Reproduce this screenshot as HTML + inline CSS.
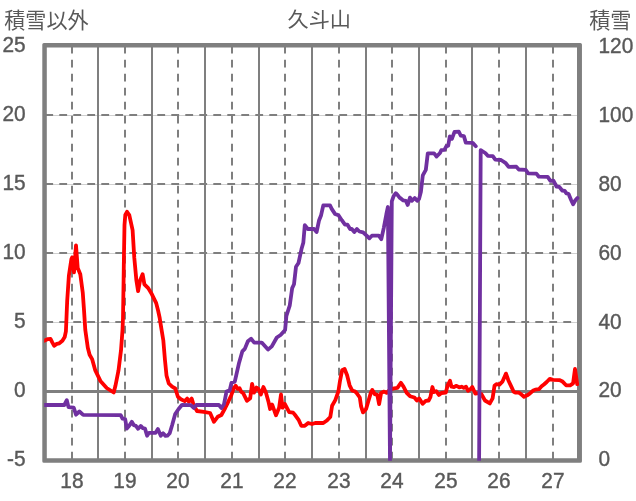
<!DOCTYPE html>
<html lang="ja"><head><meta charset="utf-8"><title>久斗山</title>
<style>
html,body{margin:0;padding:0;background:#fff;}
body{width:636px;height:501px;overflow:hidden;font-family:"Liberation Sans",sans-serif;}
svg{display:block;}
</style></head><body>
<svg width="636" height="501" viewBox="0 0 636 501">
<rect width="636" height="501" fill="#ffffff"/>
<g stroke="#d0d0d0" stroke-width="1" fill="none" transform="translate(0 0.5)">
<line x1="45.3" y1="115.0" x2="579.5" y2="115.0"/>
<line x1="45.3" y1="184.0" x2="579.5" y2="184.0"/>
<line x1="45.3" y1="253.0" x2="579.5" y2="253.0"/>
<line x1="45.3" y1="322.0" x2="579.5" y2="322.0"/>
</g>
<g stroke="#7f7f7f" stroke-width="2" fill="none" stroke-dasharray="7.8 6.2">
<line x1="45.3" y1="115.0" x2="579.5" y2="115.0"/>
<line x1="45.3" y1="184.0" x2="579.5" y2="184.0"/>
<line x1="45.3" y1="253.0" x2="579.5" y2="253.0"/>
<line x1="45.3" y1="322.0" x2="579.5" y2="322.0"/>
<line x1="72.0" y1="45.7" x2="72.0" y2="460.4"/>
<line x1="125.0" y1="45.7" x2="125.0" y2="460.4"/>
<line x1="178.0" y1="45.7" x2="178.0" y2="460.4"/>
<line x1="232.0" y1="45.7" x2="232.0" y2="460.4"/>
<line x1="285.0" y1="45.7" x2="285.0" y2="460.4"/>
<line x1="339.0" y1="45.7" x2="339.0" y2="460.4"/>
<line x1="392.0" y1="45.7" x2="392.0" y2="460.4"/>
<line x1="446.0" y1="45.7" x2="446.0" y2="460.4"/>
<line x1="499.0" y1="45.7" x2="499.0" y2="460.4"/>
<line x1="553.0" y1="45.7" x2="553.0" y2="460.4"/>
</g>
<g stroke="#7f7f7f" stroke-width="2" fill="none">
<line x1="98.0" y1="45.7" x2="98.0" y2="460.4"/>
<line x1="152.0" y1="45.7" x2="152.0" y2="460.4"/>
<line x1="205.0" y1="45.7" x2="205.0" y2="460.4"/>
<line x1="259.0" y1="45.7" x2="259.0" y2="460.4"/>
<line x1="312.0" y1="45.7" x2="312.0" y2="460.4"/>
<line x1="366.0" y1="45.7" x2="366.0" y2="460.4"/>
<line x1="419.0" y1="45.7" x2="419.0" y2="460.4"/>
<line x1="472.0" y1="45.7" x2="472.0" y2="460.4"/>
<line x1="526.0" y1="45.7" x2="526.0" y2="460.4"/>
</g>
<line x1="44.5" y1="391.5" x2="579.5" y2="391.5" stroke="#7f7f7f" stroke-width="3"/>
<path fill="#7f7f7f" fill-rule="evenodd" d="M43.90 42.90H580.35A1.6 1.6 0 0 1 581.95 44.50V461.20A1.6 1.6 0 0 1 580.35 462.80H43.90A1.6 1.6 0 0 1 42.30 461.20V44.50A1.6 1.6 0 0 1 43.90 42.90Z M46.80 47.60H577.00V458.30H46.80Z"/>
<clipPath id="pc"><rect x="44.2" y="40" width="540" height="420.8"/></clipPath>
<g fill="none" stroke-linejoin="round" stroke-linecap="round" stroke-width="3.8" clip-path="url(#pc)">
<polyline stroke="#ff0000" points="44.2,340.8 47.9,339.1 50.5,338.9 52.4,342.6 54.2,345.8 56.8,343.9 59.3,343.3 62.4,340.8 64.7,337.0 65.9,331.3 66.4,320.0 66.8,310.0 67.2,300.6 68.9,275.5 71.4,259.1 72.2,257.4 74.0,272.4 76.0,245.3 77.7,267.9 80.3,274.2 82.8,293.1 84.0,310.0 85.3,330.1 87.8,347.7 89.6,354.8 92.1,359.1 95.3,370.4 100.4,380.9 106.7,388.0 113.7,392.5 115.5,385.5 118.5,370.4 121.0,350.3 122.5,330.1 123.0,318.0 123.6,280.0 124.0,253.0 124.5,225.0 125.3,215.0 127.0,211.8 129.3,215.1 132.6,230.2 134.3,257.9 136.4,280.5 138.1,291.1 140.1,280.5 142.6,274.2 144.4,284.3 148.2,288.1 151.9,294.3 156.2,303.1 158.2,311.0 159.7,318.0 160.8,325.1 163.3,340.2 165.0,360.3 166.5,375.4 168.8,383.5 172.1,386.7 175.3,388.5 177.9,396.8 180.9,399.3 184.7,401.1 187.2,398.6 188.9,401.8 191.7,398.6 193.8,405.5 197.0,411.0 203.8,411.8 210.1,413.0 213.9,421.8 217.7,416.8 221.4,415.0 225.2,408.0 227.5,403.3 231.3,395.2 233.8,388.2 235.7,385.7 237.6,388.9 239.5,388.2 241.4,392.0 243.3,393.3 247.0,400.8 250.2,398.3 252.1,383.8 254.0,392.6 256.5,387.6 258.4,388.9 260.9,394.5 263.4,387.0 265.9,392.6 268.4,401.4 270.1,409.0 272.2,404.6 276.0,415.3 279.1,407.7 281.0,394.5 282.6,407.7 284.8,404.0 289.2,412.1 293.1,412.6 295.7,415.8 298.8,420.2 301.3,425.8 304.8,425.8 308.2,423.0 312.0,424.0 315.2,423.0 323.3,423.0 326.5,420.8 330.3,417.0 332.1,405.7 335.3,400.1 338.4,391.3 340.1,380.3 342.1,370.3 344.6,369.0 347.1,375.3 349.6,385.3 352.1,390.4 355.2,391.6 356.7,393.1 359.8,397.5 361.1,406.4 363.0,412.4 366.1,408.9 368.2,401.7 370.8,392.9 372.3,389.9 374.8,394.2 377.3,394.9 379.1,404.2 381.1,392.9 384.1,391.6 386.6,392.9 390.0,389.5 394.2,388.4 397.4,387.9 400.9,382.8 403.5,386.6 406.7,392.9 410.0,396.2 414.4,397.5 416.9,400.5 419.1,398.4 422.6,403.8 425.7,400.9 428.6,400.5 430.4,397.1 432.4,387.0 433.9,392.1 436.2,391.2 438.9,395.0 441.4,393.0 445.8,392.5 447.7,385.2 450.0,380.8 451.5,386.7 454.0,387.0 456.5,385.8 459.3,387.4 461.6,386.7 463.8,387.9 466.0,386.7 468.1,390.8 470.4,389.2 472.3,387.0 475.4,393.7 478.6,393.2 481.3,394.0 485.0,400.5 489.8,403.4 492.6,398.4 494.5,385.8 496.4,384.2 499.5,384.6 502.4,381.7 506.0,373.6 508.3,380.2 511.2,386.4 513.7,391.7 515.8,392.7 519.0,392.7 521.5,394.6 524.0,396.8 527.2,395.3 529.7,393.7 532.8,390.8 535.3,389.6 538.9,389.2 541.6,386.2 544.2,384.2 546.7,382.0 549.8,378.9 553.0,379.9 559.3,380.1 562.6,381.6 566.1,385.3 570.1,385.3 573.1,383.3 575.0,369.0 577.2,384.2"/>
<polyline stroke="#7030a0" points="44.2,405.0 64.3,405.0 66.8,400.2 68.5,407.1 73.7,407.7 76.0,414.7 79.4,411.5 83.2,414.9 120.7,415.1 122.5,418.7 125.2,419.2 126.8,428.6 129.2,425.8 131.8,421.8 133.9,425.3 135.9,425.9 138.1,428.8 140.7,425.9 142.8,428.1 145.0,428.6 147.1,435.7 149.0,432.8 155.6,432.8 157.9,429.1 160.8,435.7 163.1,433.3 165.5,435.9 167.4,435.7 169.7,433.3 172.1,425.3 175.2,414.0 178.6,409.0 182.1,404.8 190.9,405.1 193.8,408.0 196.3,405.0 218.9,405.0 221.4,408.0 224.0,404.2 226.5,391.6 229.7,390.4 231.5,382.8 234.8,381.6 239.1,362.7 242.3,351.4 244.8,348.9 247.9,341.3 251.1,338.8 254.2,342.6 261.7,342.6 268.0,349.6 271.8,346.4 276.8,337.5 280.6,335.0 285.1,330.0 286.4,315.8 289.7,305.7 292.2,288.1 294.0,284.3 296.0,266.7 298.5,263.0 301.5,249.1 303.3,242.8 304.8,225.2 307.8,229.0 314.1,229.0 316.6,232.0 319.1,220.2 321.1,215.2 323.3,205.3 330.0,205.3 331.7,208.9 335.0,213.9 338.5,215.2 341.8,220.2 345.0,224.7 347.5,224.7 350.1,229.0 351.8,229.0 354.3,232.0 356.9,229.0 359.4,231.5 363.1,232.3 366.9,235.8 369.4,238.3 371.9,235.7 378.8,235.7 381.3,239.2 383.8,227.8 386.4,214.0 387.9,207.0 390.0,462.6 391.8,201.4 393.6,196.2 395.8,193.2 397.7,195.1 399.6,197.6 401.4,198.9 403.3,200.4 405.8,200.8 407.7,204.9 410.0,197.6 411.8,200.8 414.7,198.0 417.2,200.8 419.1,198.9 420.9,191.9 422.8,175.4 425.8,169.9 427.8,153.3 434.1,153.3 436.6,156.5 440.0,153.0 441.3,150.2 444.4,149.9 446.3,146.4 448.2,145.8 449.8,136.4 451.9,138.9 454.5,131.9 458.9,131.7 460.8,135.7 463.9,136.1 465.8,142.6 472.7,142.9 475.8,146.2"/>
<polyline stroke="#7030a0" points="479.1,462.5 480.7,150.2 485.3,153.0 487.8,155.8 492.8,156.1 495.3,159.6 501.0,160.0 505.4,162.8 508.6,166.8 516.3,166.7 518.8,169.5 525.7,169.8 528.2,173.3 536.4,173.6 538.9,176.7 547.7,176.9 550.3,180.8 553.4,180.7 556.5,186.5 559.3,186.9 562.2,190.5 564.7,190.9 566.4,193.4 568.5,193.8 571.0,199.7 573.1,204.3 575.4,200.3 577.4,198.0"/>
</g>
<g font-family="'Liberation Sans', sans-serif" font-size="21.6" fill="#595959" stroke="#595959" stroke-width="0.4" style="will-change:transform">
<text transform="translate(25.6 52.1) scale(0.966 1)" text-anchor="end">25</text>
<text transform="translate(25.6 121.1) scale(0.966 1)" text-anchor="end">20</text>
<text transform="translate(25.6 190.1) scale(0.966 1)" text-anchor="end">15</text>
<text transform="translate(25.6 259.0) scale(0.966 1)" text-anchor="end">10</text>
<text transform="translate(25.6 328.0) scale(0.966 1)" text-anchor="end">5</text>
<text transform="translate(25.6 397.0) scale(0.966 1)" text-anchor="end">0</text>
<text transform="translate(25.6 466.0) scale(0.966 1)" text-anchor="end">-5</text>
<text transform="translate(598.5 466.3) scale(0.966 1)">0</text>
<text transform="translate(598.5 397.4) scale(0.966 1)">20</text>
<text transform="translate(598.5 328.5) scale(0.966 1)">40</text>
<text transform="translate(598.5 259.5) scale(0.966 1)">60</text>
<text transform="translate(598.5 190.6) scale(0.966 1)">80</text>
<text transform="translate(598.5 121.7) scale(0.966 1)">100</text>
<text transform="translate(598.5 52.8) scale(0.966 1)">120</text>
<text transform="translate(71.9 488.2) scale(0.966 1)" text-anchor="middle">18</text>
<text transform="translate(124.9 488.2) scale(0.966 1)" text-anchor="middle">19</text>
<text transform="translate(177.9 488.2) scale(0.966 1)" text-anchor="middle">20</text>
<text transform="translate(231.9 488.2) scale(0.966 1)" text-anchor="middle">21</text>
<text transform="translate(284.9 488.2) scale(0.966 1)" text-anchor="middle">22</text>
<text transform="translate(338.9 488.2) scale(0.966 1)" text-anchor="middle">23</text>
<text transform="translate(391.9 488.2) scale(0.966 1)" text-anchor="middle">24</text>
<text transform="translate(445.9 488.2) scale(0.966 1)" text-anchor="middle">25</text>
<text transform="translate(498.9 488.2) scale(0.966 1)" text-anchor="middle">26</text>
<text transform="translate(552.9 488.2) scale(0.966 1)" text-anchor="middle">27</text>
</g>
<g fill="#595959" font-family="'Liberation Sans', 'Noto Sans CJK JP', sans-serif">
<text x="4.2" y="28.2" font-size="21.1" textLength="84.4" lengthAdjust="spacingAndGlyphs">積雪以外</text>
<text x="287.6" y="26.55" font-size="20.6" textLength="63.4" lengthAdjust="spacingAndGlyphs">久斗山</text>
<text x="589.2" y="28.2" font-size="21.3" textLength="42.3" lengthAdjust="spacingAndGlyphs">積雪</text>
</g>
</svg>
</body></html>
